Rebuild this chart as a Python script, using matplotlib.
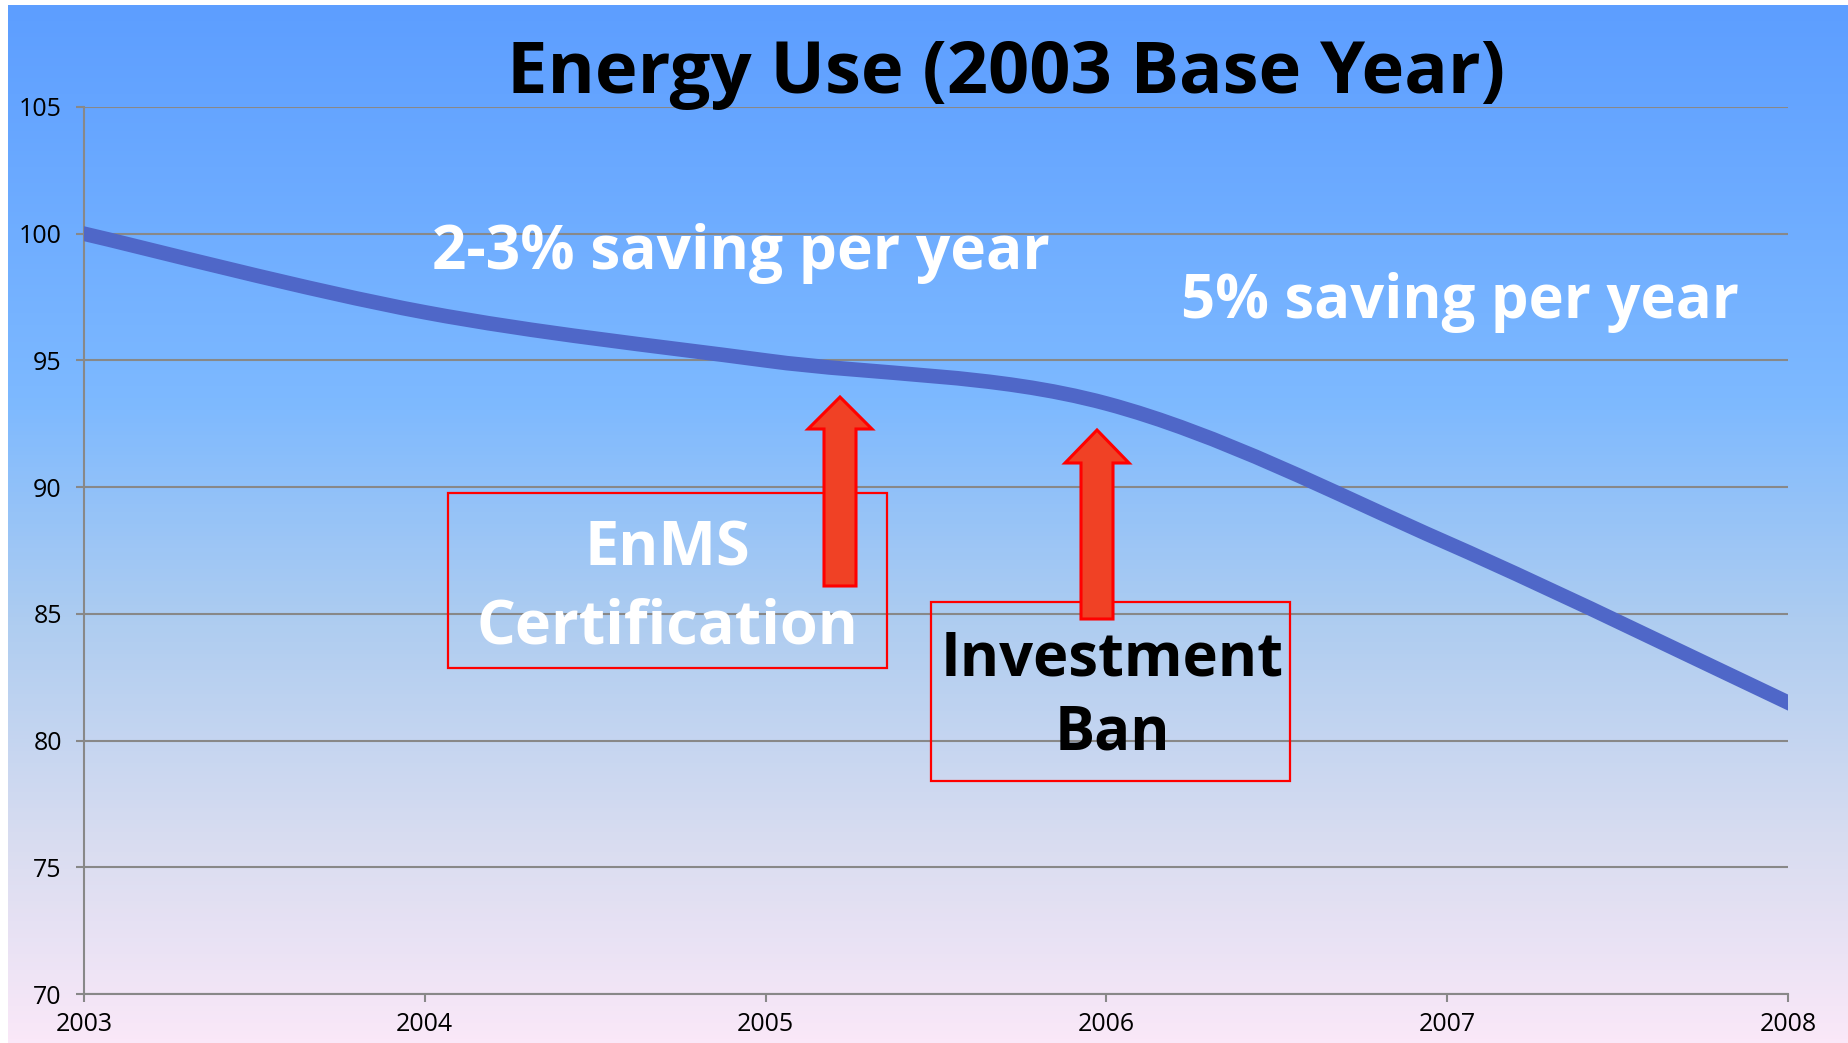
import numpy as np
import matplotlib.pyplot as plt
from matplotlib.path import Path
from matplotlib.patches import PathPatch, Rectangle, Polygon
from matplotlib.colors import LinearSegmentedColormap

# data
years = [2003, 2004, 2005, 2006, 2007, 2008]
energy = [100.0, 96.9, 95.0, 93.3, 87.8, 81.5]
y_ticks = [70, 75, 80, 85, 90, 95, 100, 105]

W, H = 1849, 1043
plt.rcParams['font.family'] = ['Open Sans', 'DejaVu Sans']
fig = plt.figure(figsize=(W / 100, H / 100), dpi=100)

## background gradient (slide style)
bg = fig.add_axes([0, 0, 1, 1], zorder=-10)
bg.set_xlim(0, W)
bg.set_ylim(H, 0)
bg.axis('off')
cmap = LinearSegmentedColormap.from_list(
    'bg', [(0, '#5d9eff'), (0.38, '#7db9ff'), (0.6, '#afcdf0'),
           (0.8, '#d7dcf0'), (1, '#fae8f8')])
grad = np.linspace(0, 1, 256).reshape(-1, 1)
bg.imshow(grad, cmap=cmap, aspect='auto', extent=[8, W, H, 5])


## smoothed line like a spreadsheet chart
def smooth_path(x, y):
    x = np.asarray(x, float)
    y = np.asarray(y, float)
    n = len(x)
    verts = [(x[0], y[0])]
    codes = [Path.MOVETO]
    for i in range(n - 1):
        i0 = max(i - 1, 0)
        i3 = min(i + 2, n - 1)
        c1 = (x[i] + (x[i + 1] - x[i0]) / 6, y[i] + (y[i + 1] - y[i0]) / 6)
        c2 = (x[i + 1] - (x[i3] - x[i]) / 6, y[i + 1] - (y[i3] - y[i]) / 6)
        verts += [c1, c2, (x[i + 1], y[i + 1])]
        codes += [Path.CURVE4] * 3
    return Path(verts, codes)


ax = fig.add_axes([84 / W, 49 / H, 1704 / W, 887 / H])
ax.patch.set_alpha(0)
ax.add_patch(PathPatch(smooth_path(years, energy), fill=False, edgecolor='#4f67c8',
                       lw=10.5, capstyle='projecting', zorder=3))
ax.set_xlim(years[0], years[-1])
ax.set_ylim(y_ticks[0], y_ticks[-1])
ax.set_xticks(years)
ax.set_yticks(y_ticks)
ax.grid(axis='y', color='#888888', lw=1.5)
ax.set_axisbelow(True)
for s in ['top', 'right']:
    ax.spines[s].set_visible(False)
for s in ['left', 'bottom']:
    ax.spines[s].set_color('#888888')
    ax.spines[s].set_linewidth(1.5)
ax.tick_params(axis='both', direction='out', length=6, width=1.5, color='#888888',
               labelsize=18, labelcolor='black')
ax.tick_params(axis='y', pad=10)
ax.tick_params(axis='x', pad=7)

## annotations in pixel coordinates
ov = fig.add_axes([0, 0, 1, 1], zorder=5)
ov.set_xlim(0, W)
ov.set_ylim(H, 0)
ov.axis('off')

ov.text(1006, 93, 'Energy Use (2003 Base Year)', ha='center', va='baseline',
        fontsize=52, fontweight='bold', color='black')
ov.text(741, 269, '2-3% saving per year', ha='center', va='baseline',
        fontsize=43.5, fontweight='bold', color='white')
ov.text(1460, 318, '5% saving per year', ha='center', va='baseline',
        fontsize=43, fontweight='bold', color='white')

ov.add_patch(Rectangle((448, 493), 439, 175, fill=False, edgecolor='red', lw=1.6))
ov.text(667, 565, 'EnMS', ha='center', va='baseline', fontsize=44,
        fontweight='bold', color='white')
ov.text(667, 643, 'Certification', ha='center', va='baseline', fontsize=44,
        fontweight='bold', color='white')

ov.add_patch(Rectangle((931, 602), 359, 179, fill=False, edgecolor='red', lw=1.6))
ov.text(1112, 675, 'Investment', ha='center', va='baseline', fontsize=43,
        fontweight='bold', color='black')
ov.text(1112, 750, 'Ban', ha='center', va='baseline', fontsize=43,
        fontweight='bold', color='black')


def up_arrow(cx, top, head_base, bottom, shaft_w, head_w):
    pts = [(cx - shaft_w / 2, bottom), (cx - shaft_w / 2, head_base),
           (cx - head_w / 2, head_base), (cx, top), (cx + head_w / 2, head_base),
           (cx + shaft_w / 2, head_base), (cx + shaft_w / 2, bottom)]
    ov.add_patch(Polygon(pts, closed=True, facecolor='#f04125', edgecolor='red',
                         lw=2.2, joinstyle='miter'))


up_arrow(840, 397, 429, 586, 32, 64)
up_arrow(1097, 430, 463, 619, 32, 64)

fig.savefig('out.png', dpi=100)
